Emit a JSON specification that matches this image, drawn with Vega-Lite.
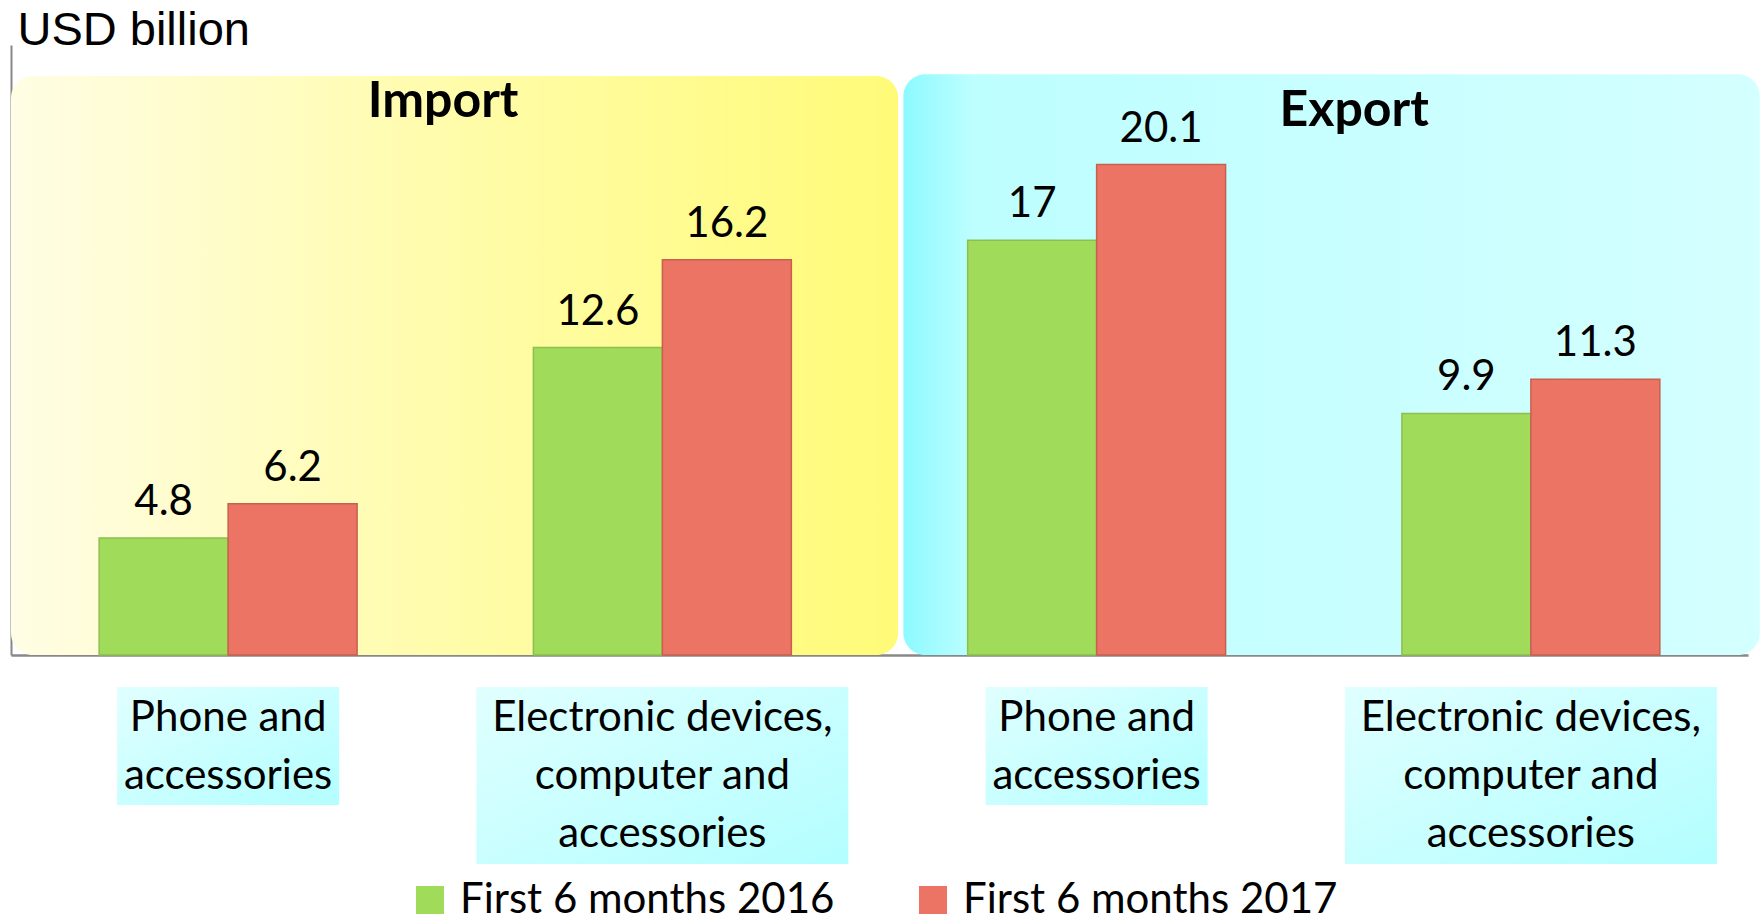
{
  "$schema": "https://vega.github.io/schema/vega-lite/v6.json",
  "width": 1737,
  "height": 610,
  "autosize": "none",
  "padding": {"left": 11, "top": 45, "right": 12, "bottom": 266},
  "background": "white",
  "config": {"view": {"stroke": null}},
  "datasets": {
    "bars": [
      {"cat": "Import Phone", "period": "First 6 months 2016", "value": 4.8},
      {"cat": "Import Phone", "period": "First 6 months 2017", "value": 6.2},
      {"cat": "Import Electronic", "period": "First 6 months 2016", "value": 12.6},
      {"cat": "Import Electronic", "period": "First 6 months 2017", "value": 16.2},
      {"cat": "Export Phone", "period": "First 6 months 2016", "value": 17},
      {"cat": "Export Phone", "period": "First 6 months 2017", "value": 20.1},
      {"cat": "Export Electronic", "period": "First 6 months 2016", "value": 9.9},
      {"cat": "Export Electronic", "period": "First 6 months 2017", "value": 11.3}
    ],
    "cats": [
      {"cat": "Import Phone", "label": "Phone and\naccessories"},
      {"cat": "Import Electronic", "label": "Electronic devices,\ncomputer and\naccessories"},
      {"cat": "Export Phone", "label": "Phone and\naccessories"},
      {"cat": "Export Electronic", "label": "Electronic devices,\ncomputer and\naccessories"}
    ],
    "panels": [
      {"panel": "Import"},
      {"panel": "Export"}
    ]
  },
  "layer": [
    {
      "data": {"name": "panels"},
      "transform": [{"filter": "datum.panel == 'Import'"}],
      "mark": {
        "type": "rect",
        "cornerRadius": 22,
        "color": {
          "gradient": "linear", "x1": 0, "y1": 0, "x2": 1, "y2": 0,
          "stops": [
            {"offset": 0, "color": "#FFFDE4"},
            {"offset": 0.5, "color": "#FFFCAA"},
            {"offset": 1, "color": "#FFFB78"}
          ]
        }
      },
      "encoding": {
        "x": {"datum": 0, "type": "quantitative", "scale": {"domain": [0, 4]}, "axis": null},
        "x2": {"datum": 2.043},
        "y": {"datum": 23.73, "type": "quantitative", "scale": {"domain": [0, 25]}, "axis": {"labels": false, "ticks": false, "grid": false, "domainColor": "#888888", "domainWidth": 2, "title": "USD billion", "titleAngle": 0, "titleAlign": "left", "titleBaseline": "alphabetic", "titleX": 6, "titleY": -1, "titleFont": "Liberation Sans", "titleFontSize": 47, "titleFontWeight": "normal", "titleColor": "#000000"}},
        "y2": {"datum": 0}
      }
    },
    {
      "data": {"name": "panels"},
      "transform": [{"filter": "datum.panel == 'Export'"}],
      "mark": {
        "type": "rect",
        "cornerRadius": 22,
        "color": {
          "gradient": "linear", "x1": 0, "y1": 0, "x2": 1, "y2": 0,
          "stops": [
            {"offset": 0, "color": "#8CFAFF"},
            {"offset": 0.08, "color": "#BDFEFF"},
            {"offset": 1, "color": "#D4FFFF"}
          ]
        }
      },
      "encoding": {
        "x": {"datum": 2.055, "type": "quantitative", "scale": {"domain": [0, 4]}, "axis": null},
        "x2": {"datum": 4.027},
        "y": {"datum": 23.8, "type": "quantitative", "scale": {"domain": [0, 25]}, "axis": {"labels": false, "ticks": false, "grid": false, "domainColor": "#888888", "domainWidth": 2, "title": "USD billion", "titleAngle": 0, "titleAlign": "left", "titleBaseline": "alphabetic", "titleX": 6, "titleY": -1, "titleFont": "Liberation Sans", "titleFontSize": 47, "titleFontWeight": "normal", "titleColor": "#000000"}},
        "y2": {"datum": 0}
      }
    },
    {
      "data": {"name": "panels"},
      "transform": [{"filter": "datum.panel == 'Import'"}],
      "mark": {"type": "text", "font": "Lato", "fontWeight": "bold", "fontSize": 50, "align": "center", "baseline": "alphabetic", "color": "#000000"},
      "encoding": {
        "x": {"datum": 0.995, "type": "quantitative", "scale": {"domain": [0, 4]}, "axis": null},
        "y": {"datum": 22.05, "type": "quantitative", "scale": {"domain": [0, 25]}, "axis": {"labels": false, "ticks": false, "grid": false, "domainColor": "#888888", "domainWidth": 2, "title": "USD billion", "titleAngle": 0, "titleAlign": "left", "titleBaseline": "alphabetic", "titleX": 6, "titleY": -1, "titleFont": "Liberation Sans", "titleFontSize": 47, "titleFontWeight": "normal", "titleColor": "#000000"}},
        "text": {"field": "panel"}
      }
    },
    {
      "data": {"name": "panels"},
      "transform": [{"filter": "datum.panel == 'Export'"}],
      "mark": {"type": "text", "font": "Lato", "fontWeight": "bold", "fontSize": 50, "align": "center", "baseline": "alphabetic", "color": "#000000"},
      "encoding": {
        "x": {"datum": 3.093, "type": "quantitative", "scale": {"domain": [0, 4]}, "axis": null},
        "y": {"datum": 21.7, "type": "quantitative", "scale": {"domain": [0, 25]}, "axis": {"labels": false, "ticks": false, "grid": false, "domainColor": "#888888", "domainWidth": 2, "title": "USD billion", "titleAngle": 0, "titleAlign": "left", "titleBaseline": "alphabetic", "titleX": 6, "titleY": -1, "titleFont": "Liberation Sans", "titleFontSize": 47, "titleFontWeight": "normal", "titleColor": "#000000"}},
        "text": {"field": "panel"}
      }
    },
    {
      "encoding": {
        "x": {"field": "cat", "type": "nominal", "sort": ["Import Phone", "Import Electronic", "Export Phone", "Export Electronic"], "scale": {"paddingInner": 0.406, "paddingOuter": 0.203}, "axis": {"labels": false, "ticks": false, "title": null, "domainColor": "#888888", "domainWidth": 2.5}}
      },
      "layer": [
        {
          "data": {"name": "cats"},
          "transform": [{"filter": "indexof(datum.label, 'Phone') == 0"}],
          "mark": {
            "type": "bar", "width": 222,
            "color": {
              "gradient": "linear", "x1": 0, "y1": 0, "x2": 1, "y2": 1,
              "stops": [
                {"offset": 0, "color": "#E0FFFF"},
                {"offset": 1, "color": "#B3FEFF"}
              ]
            }
          },
          "encoding": {
            "y": {"datum": -1.31, "type": "quantitative", "scale": {"domain": [0, 25]}, "axis": {"labels": false, "ticks": false, "grid": false, "domainColor": "#888888", "domainWidth": 2, "title": "USD billion", "titleAngle": 0, "titleAlign": "left", "titleBaseline": "alphabetic", "titleX": 6, "titleY": -1, "titleFont": "Liberation Sans", "titleFontSize": 47, "titleFontWeight": "normal", "titleColor": "#000000"}},
            "y2": {"datum": -6.15}
          }
        },
        {
          "data": {"name": "cats"},
          "transform": [{"filter": "indexof(datum.label, 'Electronic') == 0"}],
          "mark": {
            "type": "bar", "width": 372,
            "color": {
              "gradient": "linear", "x1": 0, "y1": 0, "x2": 1, "y2": 1,
              "stops": [
                {"offset": 0, "color": "#E0FFFF"},
                {"offset": 1, "color": "#B3FEFF"}
              ]
            }
          },
          "encoding": {
            "y": {"datum": -1.31, "type": "quantitative", "scale": {"domain": [0, 25]}, "axis": {"labels": false, "ticks": false, "grid": false, "domainColor": "#888888", "domainWidth": 2, "title": "USD billion", "titleAngle": 0, "titleAlign": "left", "titleBaseline": "alphabetic", "titleX": 6, "titleY": -1, "titleFont": "Liberation Sans", "titleFontSize": 47, "titleFontWeight": "normal", "titleColor": "#000000"}},
            "y2": {"datum": -8.57}
          }
        },
        {
          "data": {"name": "cats"},
          "mark": {"type": "text", "font": "Lato", "fontSize": 42, "lineBreak": "\n", "lineHeight": 58, "align": "center", "baseline": "alphabetic", "color": "#000000"},
          "encoding": {
            "y": {"datum": -3.1, "type": "quantitative", "scale": {"domain": [0, 25]}, "axis": {"labels": false, "ticks": false, "grid": false, "domainColor": "#888888", "domainWidth": 2, "title": "USD billion", "titleAngle": 0, "titleAlign": "left", "titleBaseline": "alphabetic", "titleX": 6, "titleY": -1, "titleFont": "Liberation Sans", "titleFontSize": 47, "titleFontWeight": "normal", "titleColor": "#000000"}},
            "text": {"field": "label"}
          }
        },
        {
          "data": {"name": "bars"},
          "mark": {"type": "bar", "strokeWidth": 1.5},
          "encoding": {
            "xOffset": {"field": "period", "type": "nominal", "scale": {"paddingInner": 0, "paddingOuter": 0}},
            "y": {"field": "value", "type": "quantitative", "scale": {"domain": [0, 25]}, "axis": {"labels": false, "ticks": false, "grid": false, "domainColor": "#888888", "domainWidth": 2, "title": "USD billion", "titleAngle": 0, "titleAlign": "left", "titleBaseline": "alphabetic", "titleX": 6, "titleY": -1, "titleFont": "Liberation Sans", "titleFontSize": 47, "titleFontWeight": "normal", "titleColor": "#000000"}},
            "color": {
              "field": "period", "type": "nominal",
              "scale": {"domain": ["First 6 months 2016", "First 6 months 2017"], "range": ["#A0DB5A", "#EC7464"]},
              "legend": {
                "title": null, "orient": "none", "direction": "horizontal",
                "legendX": 398, "legendY": 834,
                "symbolType": "square", "symbolSize": 784, "symbolStrokeWidth": 0, "symbolOpacity": 1,
                "labelFont": "Lato", "labelFontSize": 42, "labelColor": "#000000", "labelOffset": 9,
                "columnPadding": 77, "labelLimit": 0, "padding": 0
              }
            },
            "stroke": {
              "field": "period", "type": "nominal",
              "scale": {"domain": ["First 6 months 2016", "First 6 months 2017"], "range": ["#8DBF4E", "#C8604F"]},
              "legend": null
            }
          }
        },
        {
          "data": {"name": "bars"},
          "mark": {"type": "text", "font": "Lato", "fontSize": 42, "align": "center", "baseline": "alphabetic", "dy": -23, "color": "#000000"},
          "encoding": {
            "xOffset": {"field": "period", "type": "nominal", "scale": {"paddingInner": 0, "paddingOuter": 0}},
            "y": {"field": "value", "type": "quantitative", "scale": {"domain": [0, 25]}, "axis": {"labels": false, "ticks": false, "grid": false, "domainColor": "#888888", "domainWidth": 2, "title": "USD billion", "titleAngle": 0, "titleAlign": "left", "titleBaseline": "alphabetic", "titleX": 6, "titleY": -1, "titleFont": "Liberation Sans", "titleFontSize": 47, "titleFontWeight": "normal", "titleColor": "#000000"}},
            "text": {"field": "value", "type": "quantitative", "format": ".3~g"}
          }
        }
      ]
    }
  ],
  "resolve": {"scale": {"x": "independent"}}
}
